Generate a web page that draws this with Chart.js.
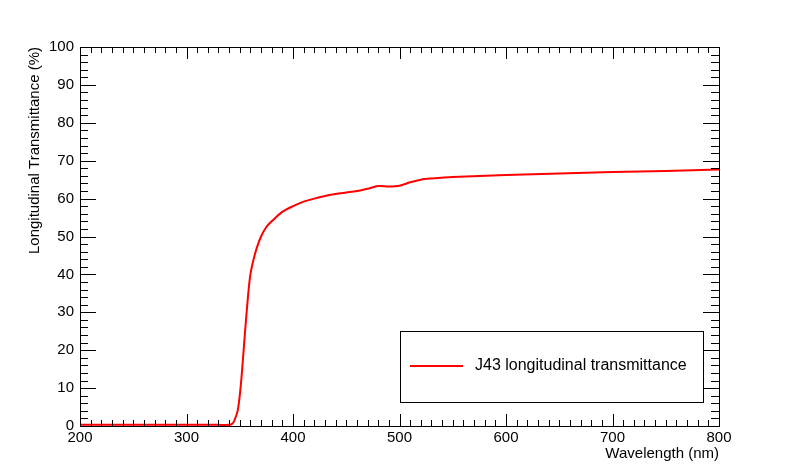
<!DOCTYPE html>
<html><head><script src="https://cdn.jsdelivr.net/npm/chart.js@4"></script>
<style>body{margin:0;background:#fff}</style></head>
<body><canvas id="c" width="800" height="474"></canvas>
<script>
const wavelengths=[200,250,300,330,340,343,345,348,350,352,355,358,360,363,366,370,375,380,390,400,410,420,430,440,450,460,470,480,490,500,510,520,530,550,600,650,700,750,800];
const transmittance=[0.3,0.3,0.3,0.3,0.3,0.6,1.5,4,8,14,25,35,40,44,47,50,52.5,54,56.5,58,59.2,60,60.7,61.2,61.6,62,62.6,63.3,63.2,63.4,64.3,65,65.3,65.7,66.2,66.6,67,67.3,67.7];
const xTicks=[200,300,400,500,600,700,800];
const yTicks=[0,10,20,30,40,50,60,70,80,90,100];
const font={family:'"Liberation Sans", Arial',size:15};
const frame={id:'frame',afterDraw(ch){
 const {ctx,chartArea:a,scales:{x,y}}=ch;ctx.save();ctx.strokeStyle='#000';ctx.lineWidth=1;
 ctx.strokeRect(a.left+0.5,a.top+0.5,a.right-a.left,a.bottom-a.top);
 ctx.beginPath();
 for(let v=200;v<=800;v+=10){const p=Math.round(x.getPixelForValue(v))+0.5;const L=v%100===0?12:6;
  ctx.moveTo(p,a.bottom);ctx.lineTo(p,a.bottom-L);ctx.moveTo(p,a.top);ctx.lineTo(p,a.top+L);}
 for(let v=0;v<=100;v+=2){const p=Math.round(y.getPixelForValue(v))+0.5;const L=v%10===0?16:8;
  ctx.moveTo(a.left,p);ctx.lineTo(a.left+L,p);ctx.moveTo(a.right,p);ctx.lineTo(a.right-L,p);}
 ctx.stroke();
 ctx.fillStyle='#fff';ctx.fillRect(400,331,303,71);ctx.strokeRect(400.5,331.5,303,71);
 ctx.strokeStyle='red';ctx.lineWidth=2;ctx.beginPath();ctx.moveTo(410,366);ctx.lineTo(463,366);ctx.stroke();
 ctx.fillStyle='#000';ctx.font='16px "Liberation Sans", Arial';ctx.textBaseline='middle';ctx.fillText('J43 longitudinal transmittance',475,366);
 ctx.font='15px "Liberation Sans", Arial';
 ctx.textAlign='right';ctx.textBaseline='alphabetic';ctx.fillText('Wavelength (nm)',719,458);
 ctx.translate(39,47);ctx.rotate(-Math.PI/2);ctx.fillText('Longitudinal Transmittance (%)',0,0);
 ctx.restore();}};
new Chart(document.getElementById('c'),{type:'line',
 data:{datasets:[{data:wavelengths.map((w,i)=>({x:w,y:transmittance[i]})),borderColor:'red',borderWidth:2,pointRadius:0,tension:0.3}]},
 options:{responsive:false,animation:false,plugins:{legend:{display:false},tooltip:{enabled:false}},
  layout:{padding:{top:47,right:81,left:0,bottom:0}},
  scales:{
   x:{type:'linear',min:200,max:800,afterBuildTicks:s=>{s.ticks=xTicks.map(v=>({value:v}))},afterFit:s=>{s.height=48},
      grid:{display:false,drawTicks:false},border:{display:false},ticks:{color:'#000',font,padding:3,maxRotation:0}},
   y:{min:0,max:100,afterBuildTicks:s=>{s.ticks=yTicks.map(v=>({value:v}))},afterFit:s=>{s.width=80},
      grid:{display:false,drawTicks:false},border:{display:false},ticks:{color:'#000',font,padding:6}}}},
 plugins:[frame]});
</script></body></html>
